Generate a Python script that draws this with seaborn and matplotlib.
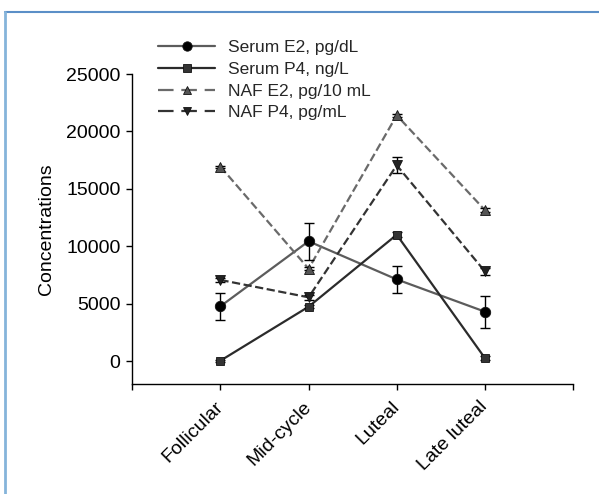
import matplotlib
matplotlib.use("Agg")
import matplotlib.pyplot as plt
import numpy as np
import pandas as pd
import seaborn as sns
from matplotlib.lines import Line2D

sns.set_theme(style="white")
plt.rcParams["font.family"] = ["Liberation Sans", "DejaVu Sans"]

# fasi del ciclo
fasi = ["Follicular", "Mid-cycle", "Luteal", "Late luteal"]

# valori medi
serum_e2 = [4770, 10430, 7110, 4300]
serum_e2_err = [1190, 1600, 1160, 1400]
serum_p4 = [30, 4730, 11000, 260]
serum_p4_err = [80, 150, 200, 150]
naf_e2 = [16930, 8040, 21400, 13150]
naf_e2_err = [100, 150, 150, 150]
naf_p4 = [7060, 5550, 17050, 7810]
naf_p4_err = [150, 200, 700, 300]

serie = [
    ("Serum E2, pg/dL", serum_e2, serum_e2_err, "#5c5c5c", "#000000", "o", "-", 7.5),
    ("Serum P4, ng/L", serum_p4, serum_p4_err, "#2b2b2b", "#333333", "s", "-", 6),
    ("NAF E2, pg/10 mL", naf_e2, naf_e2_err, "#6a6a6a", "#555555", "^", "--", 6.5),
    ("NAF P4, pg/mL", naf_p4, naf_p4_err, "#333333", "#222222", "v", "--", 6.5),
]
tratteggio = (7, 3.5)

fig = plt.figure(figsize=(5.99, 4.94), dpi=100)
ax = fig.add_axes([0.2209, 0.2227, 0.7357, 0.6275])

x = np.arange(len(fasi))
handles = []
for nome, val, err, col_linea, col_marker, mk, ls, ms in serie:
    df = pd.DataFrame({"x": x, "y": val})
    sns.lineplot(data=df, x="x", y="y", ax=ax, color=col_linea, linestyle=ls,
                 linewidth=1.6, dashes=False if ls == "-" else tratteggio)
    ax.errorbar(x, val, yerr=err, fmt="none", ecolor="black", elinewidth=1,
                capsize=3.5, capthick=1, zorder=3)
    ax.plot(x, val, linestyle="none", marker=mk, markersize=ms,
            markerfacecolor=col_marker, markeredgecolor="#111111",
            markeredgewidth=0.6, zorder=4)
    handles.append(Line2D([], [], color=col_linea, linestyle=ls, linewidth=1.6,
                          dashes=tratteggio if ls == "--" else (None, None),
                          marker=mk, markersize=ms * 0.9, markerfacecolor=col_marker,
                          markeredgecolor="#111111", markeredgewidth=0.6))

ax.set_xlim(-1, 4)
ax.set_ylim(-2000, 25000)
ax.set_yticks([0, 5000, 10000, 15000, 20000, 25000])
ax.set_xticks([-1, 0, 1, 2, 3, 4])
ax.set_xticklabels([""] + fasi + [""], rotation=45, ha="right", va="center",
                   rotation_mode="anchor")
ax.tick_params(axis="both", direction="out", length=4.5, width=1, color="black",
               labelsize=14, labelcolor="black", bottom=True, left=True, pad=4)
ax.tick_params(axis="x", pad=10)
ax.set_xlabel("")
ax.set_ylabel("Concentrations", fontsize=14, color="black", labelpad=8)

for s in ["top", "right"]:
    ax.spines[s].set_visible(False)
for s in ["left", "bottom"]:
    ax.spines[s].set_color("black")
    ax.spines[s].set_linewidth(1)

fig.legend(handles=handles, labels=[s[0] for s in serie], loc="upper left",
           bbox_to_anchor=(158 / 599, 1 - 40 / 494), frameon=False,
           fontsize=12.5, handlelength=3.3, handletextpad=0.75,
           labelspacing=0.38, borderpad=0, borderaxespad=0)

# bordo azzurro in alto e a sinistra
fig.add_artist(Line2D([4.5 / 599, 1], [1 - 12 / 494, 1 - 12 / 494],
                      color="#5b8fc7", linewidth=1.5, transform=fig.transFigure))
fig.add_artist(Line2D([4.5 / 599, 4.5 / 599], [0, 1 - 12 / 494],
                      color="#85b4da", linewidth=2, transform=fig.transFigure))

fig.savefig("out.png", dpi=100)
